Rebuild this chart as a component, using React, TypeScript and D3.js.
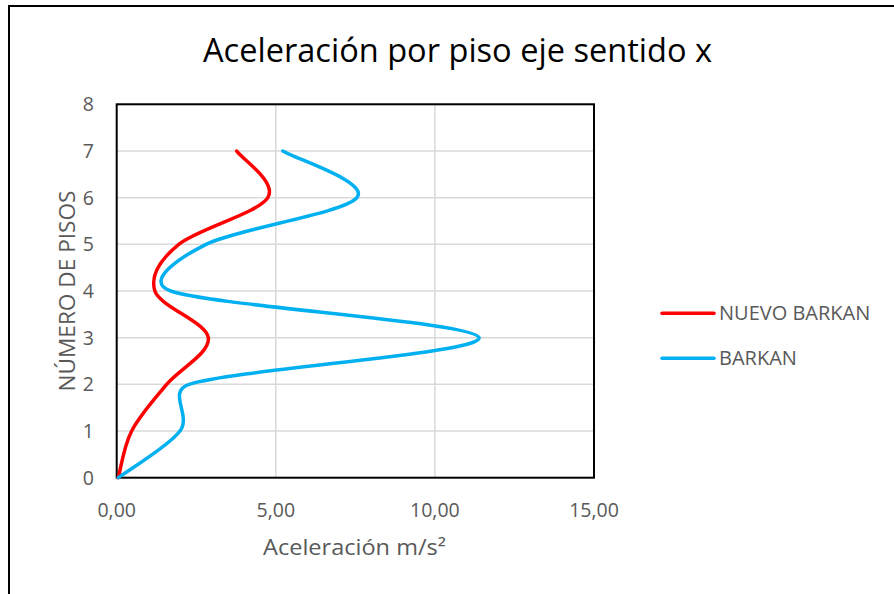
import * as d3 from 'd3';

const floors = [0, 1, 2, 3, 4, 5, 6, 7];
const nuevoBarkan = [0.05, 0.47, 1.57, 2.88, 1.2, 1.95, 4.75, 3.77];
const barkan = [0.05, 1.99, 2.28, 11.39, 1.7, 2.81, 7.55, 5.22];
const xTicks = [0, 5, 10, 15];
const yTicks = [0, 1, 2, 3, 4, 5, 6, 7, 8];

const series = [
  { name: 'NUEVO BARKAN', values: nuevoBarkan, color: '#ff0000' },
  { name: 'BARKAN', values: barkan, color: '#00b0f0' }
];

const W = 894;
const H = 594;
const font = '"Open Sans", "Noto Sans", sans-serif';
const grey = '#595959';

type Pt = [number, number];
const dist = (a: Pt, b: Pt) => Math.hypot(b[0] - a[0], b[1] - a[1]);

// d3 curve factory that mimics Excel's "smoothed line" (bezier, 1/6 tangents
// clamped to half of the segment length)
function curveExcel(context: d3.Path): d3.CurveGenerator {
  let pts: Pt[] = [];
  return {
    areaStart() {},
    areaEnd() {},
    lineStart() {
      pts = [];
    },
    point(px: number, py: number) {
      pts.push([px, py]);
    },
    lineEnd() {
      const n = pts.length;
      if (!n) return;
      context.moveTo(pts[0][0], pts[0][1]);
      for (let i = 0; i < n - 1; i++) {
        const p0 = pts[Math.max(i - 1, 0)];
        const p1 = pts[i];
        const p2 = pts[i + 1];
        const p3 = pts[Math.min(i + 2, n - 1)];
        const d12 = dist(p1, p2);
        const d02 = dist(p0, p2);
        const d13 = dist(p1, p3);
        const f0 = d02 > 0 ? Math.min(1 / 6, d12 / (2 * d02)) : 0;
        const f1 = d13 > 0 ? Math.min(1 / 6, d12 / (2 * d13)) : 0;
        context.bezierCurveTo(
          p1[0] + (p2[0] - p0[0]) * f0,
          p1[1] + (p2[1] - p0[1]) * f0,
          p2[0] - (p3[0] - p1[0]) * f1,
          p2[1] - (p3[1] - p1[1]) * f1,
          p2[0],
          p2[1]
        );
      }
    }
  } as unknown as d3.CurveGenerator;
}

export default function App(): JSX.Element {
  const x = d3.scaleLinear().domain([0, 15]).range([116.7, 594]);
  const y = d3.scaleLinear().domain([0, 8]).range([477.7, 104.3]);
  const fmt = (v: number) => v.toFixed(2).replace('.', ',');

  const line = d3
    .line<number>()
    .x((d) => x(d))
    .y((_, i) => y(floors[i]))
    .curve(curveExcel as unknown as d3.CurveFactory);

  return (
    <svg
      width={W}
      height={H}
      style={{ position: 'fixed', left: 0, top: 0, background: '#fff' }}
      fontFamily={font}
    >
      <rect x={0} y={0} width={W} height={H} fill="#fff" />
      <path d={`M9,${H} V6 H${W}`} fill="none" stroke="#000" strokeWidth={2} />

      <text x={457.5} y={62} textAnchor="middle" fontSize={32.5} fill="#000" textLength={509} lengthAdjust="spacingAndGlyphs">
        Aceleración por piso eje sentido x
      </text>

      {xTicks.slice(1).map((t) => (
        <line key={'gx' + t} x1={x(t)} x2={x(t)} y1={y(0)} y2={y(8)} stroke="#d9d9d9" strokeWidth={1.5} />
      ))}
      {yTicks.slice(1).map((t) => (
        <line key={'gy' + t} x1={x(0)} x2={x(15)} y1={y(t)} y2={y(t)} stroke="#d9d9d9" strokeWidth={1.5} />
      ))}
      <rect
        x={x(0)}
        y={y(8)}
        width={x(15) - x(0)}
        height={y(0) - y(8)}
        fill="none"
        stroke="#000"
        strokeWidth={2}
      />

      {xTicks.map((t) => (
        <text key={'tx' + t} x={x(t)} y={517} textAnchor="middle" fontSize={19.5} fill={grey}>
          {fmt(t)}
        </text>
      ))}
      {yTicks.map((t) => (
        <text key={'ty' + t} x={94} y={y(t) + 7} textAnchor="end" fontSize={19.5} fill={grey}>
          {t}
        </text>
      ))}

      <text x={354.5} y={555} textAnchor="middle" fontSize={21.5} fill={grey} textLength={183} lengthAdjust="spacingAndGlyphs">
        Aceleración m/s²
      </text>
      <text
        transform={`translate(75,291) rotate(-90)`}
        textAnchor="middle"
        fontSize={21.5}
        fill={grey}
        textLength={201}
        lengthAdjust="spacingAndGlyphs"
      >
        NÚMERO DE PISOS
      </text>

      {series.map((s) => (
        <path
          key={s.name}
          d={line(s.values) as string}
          fill="none"
          stroke={s.color}
          strokeWidth={3.5}
          strokeLinecap="round"
          strokeLinejoin="round"
        />
      ))}

      {series.map((s, i) => (
        <g key={'lg' + s.name} transform={`translate(0,${313.3 + i * 45})`}>
          <line x1={662} x2={714} y1={0} y2={0} stroke={s.color} strokeWidth={3.5} strokeLinecap="round" />
          <text x={719} y={7} fontSize={20} fill={grey}>
            {s.name}
          </text>
        </g>
      ))}
    </svg>
  );
}
